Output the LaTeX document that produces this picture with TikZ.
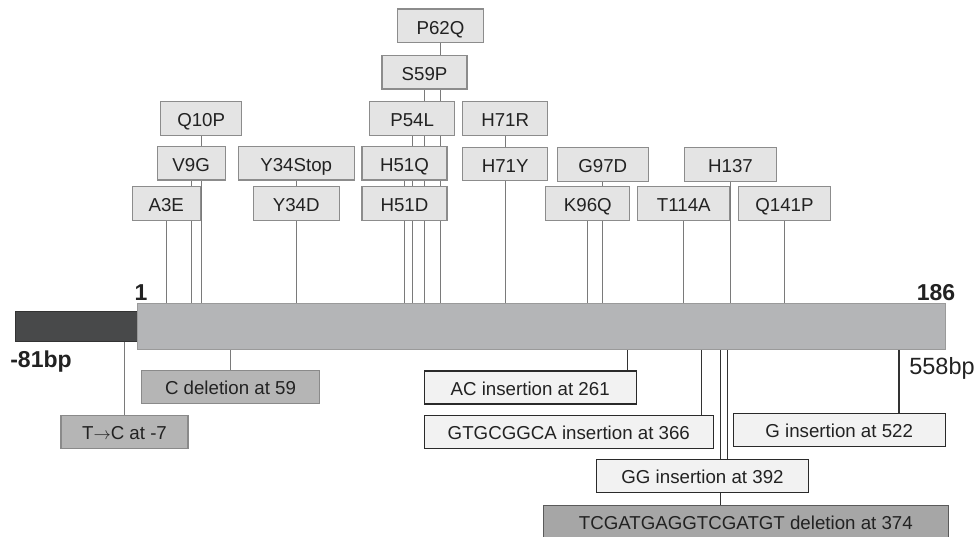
\documentclass[tikz,border=0pt]{standalone}
\usepackage{fontspec}
\setmainfont{Liberation Sans}
\usetikzlibrary{backgrounds}
\definecolor{tfill}{HTML}{E4E4E4}
\definecolor{tbord}{HTML}{8C8C8C}
\definecolor{barfill}{HTML}{B4B5B7}
\definecolor{barbord}{HTML}{9A9A9A}
\definecolor{darkfill}{HTML}{48494A}
\definecolor{darkbord}{HTML}{333333}
\definecolor{lfill}{HTML}{F2F2F2}
\definecolor{lbord}{HTML}{2A2A2A}
\definecolor{mfill}{HTML}{B5B5B5}
\definecolor{mbord}{HTML}{8A8A8A}
\definecolor{tcfill}{HTML}{A6A6A6}
\definecolor{tcbord}{HTML}{5A5A5A}
\definecolor{tlinec}{HTML}{7A7A7A}
\definecolor{blinec}{HTML}{333333}
\definecolor{txt}{HTML}{222222}
\tikzset{
  boxbase/.style={inner sep=0pt, line width=1.1pt, text=txt, font=\fontsize{18.7}{20}\selectfont},
  topbox/.style={boxbase, draw=tbord, fill=tfill, minimum height=33.5pt, text height=17pt, text depth=0pt},
  lightbox/.style={boxbase, draw=lbord, fill=lfill, minimum height=33pt, text height=15pt, text depth=0pt},
  midbox/.style={boxbase, draw=mbord, fill=mfill, minimum height=33pt, text height=15pt, text depth=0pt},
  tcbox/.style={boxbase, draw=tcbord, fill=tcfill, minimum height=33pt, text height=15pt, text depth=0pt},
  tline/.style={draw=tlinec, line width=1.1pt},
  bline/.style={draw=blinec, line width=1.1pt},
  mline/.style={draw=tlinec, line width=1.1pt},
  boldlab/.style={inner sep=0pt, text=txt, font=\fontsize{23}{26}\bfseries\selectfont, anchor=base},
  reglab/.style={inner sep=0pt, text=txt, font=\fontsize{23.5}{26}\selectfont, anchor=base}
}
\begin{document}
\begin{tikzpicture}[x=1pt,y=-1pt]
\clip (0,0) rectangle (977,536);
\useasboundingbox (0,0) rectangle (977,536);

% bars
\node[draw=darkbord, fill=darkfill, line width=1pt, inner sep=0pt, minimum width=122pt, minimum height=30pt, anchor=north west] (dark) at (15,311) {};
\node[draw=barbord, fill=barfill, line width=1.1pt, inner sep=0pt, minimum width=808pt, minimum height=46.6pt, anchor=north west] (bar) at (137,302.7) {};

% end labels
\node[boldlab] (one) at (141,300) {1};
\node[boldlab] (n186) at (936,300) {186};
\node[boldlab] (m81) at (41,367.3) {-81bp};
\node[reglab] (bp558) at (942,374) {558bp};

% top boxes
\node[topbox, minimum width=86pt] (p62q) at (440.5,25.7) {P62Q};
\node[topbox, minimum width=85pt] (s59p) at (424.5,72.2) {S59P};
\node[topbox, minimum width=81pt] (q10p) at (201.2,118.3) {Q10P};
\node[topbox, minimum width=85pt] (p54l) at (412.2,118.3) {P54L};
\node[topbox, minimum width=85pt] (h71r) at (505.2,118.3) {H71R};
\node[topbox, minimum width=68pt] (v9g) at (191.2,163.2) {V9G};
\node[topbox, minimum width=116pt] (y34stop) at (296.2,163.2) {Y34Stop};
\node[topbox, minimum width=85pt] (h51q) at (404.5,163.2) {H51Q};
\node[topbox, minimum width=85pt] (h71y) at (505.2,163.8) {H71Y};
\node[topbox, minimum width=91pt] (g97d) at (602.8,164.3) {G97D};
\node[topbox, minimum width=92pt] (h137) at (730.5,164.3) {H137};
\node[topbox, minimum width=68pt] (a3e) at (166.2,203.3) {A3E};
\node[topbox, minimum width=86pt] (y34d) at (296.2,203.3) {Y34D};
\node[topbox, minimum width=85pt] (h51d) at (404.5,203.3) {H51D};
\node[topbox, minimum width=84pt] (k96q) at (587.8,203.3) {K96Q};
\node[topbox, minimum width=92pt] (t114a) at (683.8,203.3) {T114A};
\node[topbox, minimum width=92pt] (q141p) at (784.5,203.3) {Q141P};

% bottom boxes
\node[midbox, minimum width=178pt] (cdel) at (230.5,387.3) {C deletion at 59};
\node[midbox, minimum width=127pt] (tc) at (124.5,431.7) {T\ensuremath{\rightarrow}C at -7};
\node[lightbox, minimum width=212pt] (ac) at (530.2,387.5) {AC insertion at 261};
\node[lightbox, minimum width=289pt] (gtgc) at (568.8,432) {GTGCGGCA insertion at 366};
\node[lightbox, minimum width=212pt] (gins) at (839.2,429.7) {G insertion at 522};
\node[lightbox, minimum width=212pt] (gg) at (702.5,476) {GG insertion at 392};
\node[tcbox, minimum width=405pt] (tcg) at (745.8,522.2) {TCGATGAGGTCGATGT deletion at 374};

% connector x positions for bottom boxes
\coordinate (xac) at (627.5,0);
\coordinate (xgtgc) at (701.5,0);
\coordinate (xdel) at (720.3,0);
\coordinate (xgg) at (727.5,0);
\coordinate (xg) at (899,0);

\begin{scope}[on background layer]
  \foreach \n in {p62q,s59p,q10p,p54l,h71r,v9g,y34stop,h51q,g97d,h137,a3e,h51d,k96q,t114a,q141p}
    \draw[tline] (\n.south) -- (\n.south |- bar.north);
  \draw[mline] (cdel.north) -- (cdel.north |- bar.south);
  \draw[mline] (tc.north) -- (tc.north |- dark.south);
  \draw[bline] (bar.south -| xac) -- (ac.north -| xac);
  \draw[bline] (bar.south -| xgtgc) -- (gtgc.north -| xgtgc);
  \draw[bline] (bar.south -| xdel) -- (tcg.north -| xdel);
  \draw[bline] (bar.south -| xgg) -- (gg.north -| xgg);
  \draw[bline] (bar.south -| xg) -- (gins.north -| xg);
\end{scope}
\end{tikzpicture}
\end{document}
